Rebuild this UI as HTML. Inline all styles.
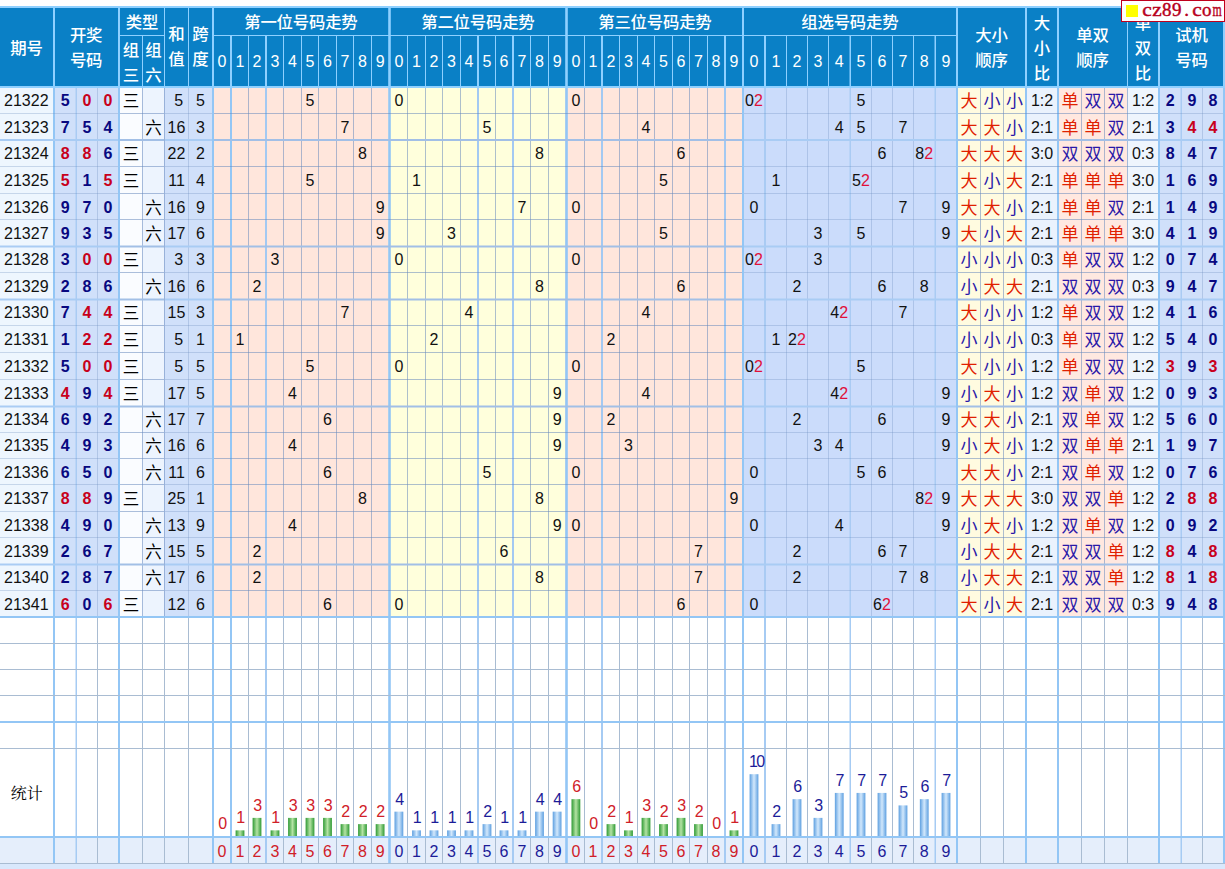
<!DOCTYPE html>
<html lang="zh"><head><meta charset="utf-8"><title>3D走势图</title>
<style>
html,body{margin:0;padding:0;background:#fff;overflow:hidden}
body{width:1225px;height:869px;position:relative;overflow:hidden;font-family:"Liberation Sans",sans-serif;font-size:16px}
.page{position:absolute;left:0;top:0;width:1225px;height:869px;overflow:hidden}
svg.bg{position:absolute;left:0;top:0}
.t{position:absolute;height:20px;line-height:20px;text-align:center;white-space:nowrap;color:#111}
.t i{font-style:normal;color:#e0103a}
.h{color:#fff}
.b{font-weight:bold}
.r{color:#c8001c}.n{color:#080880}
.r2{color:#d02028}.n2{color:#1c1c98}
.wm{position:absolute;left:1121px;top:0;width:102px;height:20px;border:1px solid #c0001c;background:#fff;font-family:"Liberation Serif",serif;font-weight:normal;-webkit-text-stroke:0.45px #b8001c;font-size:19px;color:#b8001c;line-height:20px;white-space:nowrap}
.wm .sq{position:absolute;left:4px;top:4px;width:12px;height:12px;background:#ffff00}
.wm b{position:absolute;top:-1px;font-weight:normal;width:20px;text-align:center}
svg.bg text{font-family:"Liberation Sans","Noto Sans CJK SC",sans-serif}
svg.bg .hd{font-size:16.4px;fill:#fff;font-weight:500;letter-spacing:-0.2px}
svg.bg .k{font-size:16.5px;fill:#000}
svg.bg .ds{font-size:17px}
svg.bg .a{fill:#e02000}
svg.bg .c{fill:#2a18a8}
svg.bg .st{font-family:"Liberation Serif","Noto Serif CJK SC",serif;font-size:16px;fill:#000}
</style></head><body><div class="page">
<svg class="bg" width="1225" height="869" viewBox="0 0 1225 869">
<defs>
<linearGradient id="gg" x1="0" x2="1" y1="0" y2="0"><stop offset="0" stop-color="#2f9a35"/><stop offset=".5" stop-color="#b4e3a4"/><stop offset="1" stop-color="#2f9a35"/></linearGradient>
<linearGradient id="gb" x1="0" x2="1" y1="0" y2="0"><stop offset="0" stop-color="#5d9fe0"/><stop offset=".5" stop-color="#d2e8fc"/><stop offset="1" stop-color="#5d9fe0"/></linearGradient>
</defs>
<rect x="0" y="0" width="1225" height="869" fill="#fff"/><rect x="0" y="6" width="1225" height="2" fill="#8fd0ff"/><rect x="0" y="8" width="1225" height="78" fill="#0a80c6"/><rect x="0" y="86" width="1225" height="2" fill="#8fd0ff"/><rect x="0" y="88" width="55" height="528" fill="#eef6fe"/><rect x="53" y="88" width="24" height="528" fill="#d0e0fa"/><rect x="75.5" y="88" width="22.5" height="528" fill="#d0e0fa"/><rect x="97" y="88" width="23" height="528" fill="#d0e0fa"/><rect x="118" y="88" width="25" height="528" fill="#fafcff"/><rect x="142" y="88" width="23" height="528" fill="#edf4fe"/><rect x="164" y="88" width="25" height="528" fill="#d0e0fa"/><rect x="188" y="88" width="26" height="528" fill="#d0e0fa"/><rect x="212" y="88" width="20" height="528" fill="#ffe6dc"/><rect x="230" y="88" width="19" height="528" fill="#ffe6dc"/><rect x="248" y="88" width="19" height="528" fill="#ffe6dc"/><rect x="265" y="88" width="19" height="528" fill="#ffe6dc"/><rect x="283" y="88" width="19" height="528" fill="#ffe6dc"/><rect x="301" y="88" width="18" height="528" fill="#ffe6dc"/><rect x="318" y="88" width="19" height="528" fill="#ffe6dc"/><rect x="336" y="88" width="18" height="528" fill="#ffe6dc"/><rect x="353" y="88" width="19" height="528" fill="#ffe6dc"/><rect x="371" y="88" width="19.8" height="528" fill="#ffe6dc"/><rect x="388.2" y="88" width="19.8" height="528" fill="#ffffdc"/><rect x="407" y="88" width="19" height="528" fill="#ffffdc"/><rect x="425" y="88" width="18" height="528" fill="#ffffdc"/><rect x="442" y="88" width="19" height="528" fill="#ffffdc"/><rect x="460" y="88" width="19" height="528" fill="#ffffdc"/><rect x="477" y="88" width="19" height="528" fill="#ffffdc"/><rect x="495" y="88" width="19" height="528" fill="#ffffdc"/><rect x="512" y="88" width="19" height="528" fill="#ffffdc"/><rect x="530" y="88" width="19" height="528" fill="#ffffdc"/><rect x="548" y="88" width="19.8" height="528" fill="#ffffdc"/><rect x="565.2" y="88" width="19.8" height="528" fill="#ffe6dc"/><rect x="584" y="88" width="19" height="528" fill="#ffe6dc"/><rect x="601" y="88" width="19" height="528" fill="#ffe6dc"/><rect x="619" y="88" width="19" height="528" fill="#ffe6dc"/><rect x="637" y="88" width="18" height="528" fill="#ffe6dc"/><rect x="654" y="88" width="19" height="528" fill="#ffe6dc"/><rect x="672" y="88" width="18" height="528" fill="#ffe6dc"/><rect x="689" y="88" width="19" height="528" fill="#ffe6dc"/><rect x="707" y="88" width="19" height="528" fill="#ffe6dc"/><rect x="724" y="88" width="20" height="528" fill="#ffe6dc"/><rect x="742" y="88" width="24" height="528" fill="#cbdcfb"/><rect x="764" y="88" width="23" height="528" fill="#cbdcfb"/><rect x="786" y="88" width="22" height="528" fill="#cbdcfb"/><rect x="807" y="88" width="22" height="528" fill="#cbdcfb"/><rect x="828" y="88" width="23" height="528" fill="#cbdcfb"/><rect x="849.5" y="88" width="22.5" height="528" fill="#cbdcfb"/><rect x="871" y="88" width="22" height="528" fill="#cbdcfb"/><rect x="892" y="88" width="22" height="528" fill="#cbdcfb"/><rect x="913" y="88" width="23" height="528" fill="#cbdcfb"/><rect x="934.5" y="88" width="23.5" height="528" fill="#cbdcfb"/><rect x="956" y="88" width="25" height="528" fill="#fffbe0"/><rect x="980" y="88" width="24" height="528" fill="#fffbe0"/><rect x="1003" y="88" width="24" height="528" fill="#fffbe0"/><rect x="1025" y="88" width="34" height="528" fill="#eaf2fd"/><rect x="1057" y="88" width="25" height="528" fill="#ffe8e0"/><rect x="1081" y="88" width="24" height="528" fill="#ffe8e0"/><rect x="1104" y="88" width="24" height="528" fill="#ffe8e0"/><rect x="1127" y="88" width="33" height="528" fill="#eef5fd"/><rect x="1158" y="88" width="24" height="528" fill="#d0e0fa"/><rect x="1180.5" y="88" width="22.5" height="528" fill="#d0e0fa"/><rect x="1202" y="88" width="23" height="528" fill="#d0e0fa"/><rect x="0" y="838" width="1225" height="25" fill="#e5eefb"/><rect x="0" y="864" width="1225" height="5" fill="#d9e8fc"/><rect x="53" y="88" width="2" height="528" fill="#93c6f5"/><rect x="53" y="616" width="2" height="247" fill="#93c6f5"/><rect x="75.5" y="88" width="1.5" height="528" fill="#aacbf3"/><rect x="75.5" y="616" width="1.5" height="247" fill="#a6cbf3"/><rect x="97" y="88" width="1" height="528" fill="rgba(105,138,190,0.3)"/><rect x="97" y="616" width="1" height="247" fill="#a9bcd2"/><rect x="118" y="88" width="2" height="528" fill="#93c6f5"/><rect x="118" y="616" width="2" height="247" fill="#93c6f5"/><rect x="142" y="88" width="1" height="528" fill="rgba(105,138,190,0.55)"/><rect x="142" y="616" width="1" height="247" fill="#a9bcd2"/><rect x="164" y="88" width="1" height="528" fill="rgba(105,138,190,0.55)"/><rect x="164" y="616" width="1" height="247" fill="#a9bcd2"/><rect x="188" y="88" width="1" height="528" fill="rgba(105,138,190,0.3)"/><rect x="188" y="616" width="1" height="247" fill="#a9bcd2"/><rect x="212" y="88" width="2" height="528" fill="#93c6f5"/><rect x="212" y="616" width="2" height="247" fill="#93c6f5"/><rect x="230" y="88" width="2" height="528" fill="#93c6f5"/><rect x="230" y="616" width="2" height="247" fill="#93c6f5"/><rect x="248" y="88" width="1" height="528" fill="rgba(105,138,190,0.55)"/><rect x="248" y="616" width="1" height="247" fill="#a9bcd2"/><rect x="265" y="88" width="2" height="528" fill="#a3c9f2"/><rect x="265" y="616" width="2" height="247" fill="#a6cbf3"/><rect x="283" y="88" width="1" height="528" fill="rgba(105,138,190,0.55)"/><rect x="283" y="616" width="1" height="247" fill="#a9bcd2"/><rect x="301" y="88" width="1" height="528" fill="rgba(105,138,190,0.55)"/><rect x="301" y="616" width="1" height="247" fill="#a9bcd2"/><rect x="318" y="88" width="1" height="528" fill="rgba(105,138,190,0.55)"/><rect x="318" y="616" width="1" height="247" fill="#a9bcd2"/><rect x="336" y="88" width="1" height="528" fill="rgba(105,138,190,0.55)"/><rect x="336" y="616" width="1" height="247" fill="#a9bcd2"/><rect x="353" y="88" width="1" height="528" fill="rgba(105,138,190,0.55)"/><rect x="353" y="616" width="1" height="247" fill="#a9bcd2"/><rect x="371" y="88" width="1" height="528" fill="rgba(105,138,190,0.55)"/><rect x="371" y="616" width="1" height="247" fill="#a9bcd2"/><rect x="388.2" y="88" width="2.6" height="528" fill="#93c6f5"/><rect x="388.2" y="616" width="2.6" height="247" fill="#93c6f5"/><rect x="407" y="88" width="1" height="528" fill="rgba(105,138,190,0.55)"/><rect x="407" y="616" width="1" height="247" fill="#a9bcd2"/><rect x="425" y="88" width="1" height="528" fill="rgba(105,138,190,0.55)"/><rect x="425" y="616" width="1" height="247" fill="#a9bcd2"/><rect x="442" y="88" width="1" height="528" fill="rgba(105,138,190,0.55)"/><rect x="442" y="616" width="1" height="247" fill="#a9bcd2"/><rect x="460" y="88" width="1" height="528" fill="rgba(105,138,190,0.55)"/><rect x="460" y="616" width="1" height="247" fill="#a9bcd2"/><rect x="477" y="88" width="2" height="528" fill="#a3c9f2"/><rect x="477" y="616" width="2" height="247" fill="#a6cbf3"/><rect x="495" y="88" width="1" height="528" fill="rgba(105,138,190,0.55)"/><rect x="495" y="616" width="1" height="247" fill="#a9bcd2"/><rect x="512" y="88" width="2" height="528" fill="#a3c9f2"/><rect x="512" y="616" width="2" height="247" fill="#a6cbf3"/><rect x="530" y="88" width="1" height="528" fill="rgba(105,138,190,0.55)"/><rect x="530" y="616" width="1" height="247" fill="#a9bcd2"/><rect x="548" y="88" width="1" height="528" fill="rgba(105,138,190,0.55)"/><rect x="548" y="616" width="1" height="247" fill="#a9bcd2"/><rect x="565.2" y="88" width="2.6" height="528" fill="#93c6f5"/><rect x="565.2" y="616" width="2.6" height="247" fill="#93c6f5"/><rect x="584" y="88" width="1" height="528" fill="rgba(105,138,190,0.55)"/><rect x="584" y="616" width="1" height="247" fill="#a9bcd2"/><rect x="601" y="88" width="2" height="528" fill="#a3c9f2"/><rect x="601" y="616" width="2" height="247" fill="#a6cbf3"/><rect x="619" y="88" width="1" height="528" fill="rgba(105,138,190,0.55)"/><rect x="619" y="616" width="1" height="247" fill="#a9bcd2"/><rect x="637" y="88" width="1" height="528" fill="rgba(105,138,190,0.55)"/><rect x="637" y="616" width="1" height="247" fill="#a9bcd2"/><rect x="654" y="88" width="1" height="528" fill="rgba(105,138,190,0.55)"/><rect x="654" y="616" width="1" height="247" fill="#a9bcd2"/><rect x="672" y="88" width="1" height="528" fill="rgba(105,138,190,0.55)"/><rect x="672" y="616" width="1" height="247" fill="#a9bcd2"/><rect x="689" y="88" width="1" height="528" fill="rgba(105,138,190,0.55)"/><rect x="689" y="616" width="1" height="247" fill="#a9bcd2"/><rect x="707" y="88" width="1" height="528" fill="rgba(105,138,190,0.55)"/><rect x="707" y="616" width="1" height="247" fill="#a9bcd2"/><rect x="724" y="88" width="2" height="528" fill="#a3c9f2"/><rect x="724" y="616" width="2" height="247" fill="#a6cbf3"/><rect x="742" y="88" width="2" height="528" fill="#93c6f5"/><rect x="742" y="616" width="2" height="247" fill="#93c6f5"/><rect x="764" y="88" width="2" height="528" fill="#aacbf3"/><rect x="764" y="616" width="2" height="247" fill="#a6cbf3"/><rect x="786" y="88" width="1" height="528" fill="rgba(105,138,190,0.3)"/><rect x="786" y="616" width="1" height="247" fill="#a9bcd2"/><rect x="807" y="88" width="1" height="528" fill="rgba(105,138,190,0.3)"/><rect x="807" y="616" width="1" height="247" fill="#a9bcd2"/><rect x="828" y="88" width="1" height="528" fill="rgba(105,138,190,0.3)"/><rect x="828" y="616" width="1" height="247" fill="#a9bcd2"/><rect x="849.5" y="88" width="1.5" height="528" fill="#aacbf3"/><rect x="849.5" y="616" width="1.5" height="247" fill="#a6cbf3"/><rect x="871" y="88" width="1" height="528" fill="rgba(105,138,190,0.3)"/><rect x="871" y="616" width="1" height="247" fill="#a9bcd2"/><rect x="892" y="88" width="1" height="528" fill="rgba(105,138,190,0.3)"/><rect x="892" y="616" width="1" height="247" fill="#a9bcd2"/><rect x="913" y="88" width="1" height="528" fill="rgba(105,138,190,0.3)"/><rect x="913" y="616" width="1" height="247" fill="#a9bcd2"/><rect x="934.5" y="88" width="1.5" height="528" fill="#aacbf3"/><rect x="934.5" y="616" width="1.5" height="247" fill="#a6cbf3"/><rect x="956" y="88" width="2" height="528" fill="#93c6f5"/><rect x="956" y="616" width="2" height="247" fill="#93c6f5"/><rect x="980" y="88" width="1" height="528" fill="rgba(105,138,190,0.55)"/><rect x="980" y="616" width="1" height="247" fill="#a9bcd2"/><rect x="1003" y="88" width="1" height="528" fill="rgba(105,138,190,0.55)"/><rect x="1003" y="616" width="1" height="247" fill="#a9bcd2"/><rect x="1025" y="88" width="2" height="528" fill="#93c6f5"/><rect x="1025" y="616" width="2" height="247" fill="#93c6f5"/><rect x="1057" y="88" width="2" height="528" fill="#93c6f5"/><rect x="1057" y="616" width="2" height="247" fill="#93c6f5"/><rect x="1081" y="88" width="1" height="528" fill="rgba(105,138,190,0.55)"/><rect x="1081" y="616" width="1" height="247" fill="#a9bcd2"/><rect x="1104" y="88" width="1" height="528" fill="rgba(105,138,190,0.55)"/><rect x="1104" y="616" width="1" height="247" fill="#a9bcd2"/><rect x="1127" y="88" width="1" height="528" fill="rgba(105,138,190,0.55)"/><rect x="1127" y="616" width="1" height="247" fill="#a9bcd2"/><rect x="1158" y="88" width="2" height="528" fill="#93c6f5"/><rect x="1158" y="616" width="2" height="247" fill="#93c6f5"/><rect x="1180.5" y="88" width="1.5" height="528" fill="#aacbf3"/><rect x="1180.5" y="616" width="1.5" height="247" fill="#a6cbf3"/><rect x="1202" y="88" width="1" height="528" fill="rgba(105,138,190,0.3)"/><rect x="1202" y="616" width="1" height="247" fill="#a9bcd2"/><rect x="1223" y="88" width="2" height="528" fill="#93c6f5"/><rect x="1223" y="616" width="2" height="247" fill="#93c6f5"/><rect x="0" y="113" width="118" height="1" fill="rgba(105,138,190,0.3)"/><rect x="120" y="113" width="44" height="1" fill="rgba(105,138,190,0.55)"/><rect x="165" y="113" width="47" height="1" fill="rgba(105,138,190,0.3)"/><rect x="214" y="113" width="528" height="1" fill="rgba(105,138,190,0.55)"/><rect x="744" y="113" width="212" height="1" fill="rgba(105,138,190,0.3)"/><rect x="958" y="113" width="200" height="1" fill="rgba(105,138,190,0.55)"/><rect x="1160" y="113" width="63" height="1" fill="rgba(105,138,190,0.3)"/><rect x="0" y="139" width="118" height="2" fill="#a9ccf4"/><rect x="120" y="139" width="44" height="2" fill="#a2bfe6"/><rect x="165" y="139" width="47" height="2" fill="#a9ccf4"/><rect x="214" y="139" width="528" height="2" fill="#a2bfe6"/><rect x="744" y="139" width="212" height="2" fill="#a9ccf4"/><rect x="958" y="139" width="200" height="2" fill="#a2bfe6"/><rect x="1160" y="139" width="63" height="2" fill="#a9ccf4"/><rect x="0" y="166" width="118" height="1" fill="rgba(105,138,190,0.3)"/><rect x="120" y="166" width="44" height="1" fill="rgba(105,138,190,0.55)"/><rect x="165" y="166" width="47" height="1" fill="rgba(105,138,190,0.3)"/><rect x="214" y="166" width="528" height="1" fill="rgba(105,138,190,0.55)"/><rect x="744" y="166" width="212" height="1" fill="rgba(105,138,190,0.3)"/><rect x="958" y="166" width="200" height="1" fill="rgba(105,138,190,0.55)"/><rect x="1160" y="166" width="63" height="1" fill="rgba(105,138,190,0.3)"/><rect x="0" y="193" width="118" height="1" fill="rgba(105,138,190,0.3)"/><rect x="120" y="193" width="44" height="1" fill="rgba(105,138,190,0.55)"/><rect x="165" y="193" width="47" height="1" fill="rgba(105,138,190,0.3)"/><rect x="214" y="193" width="528" height="1" fill="rgba(105,138,190,0.55)"/><rect x="744" y="193" width="212" height="1" fill="rgba(105,138,190,0.3)"/><rect x="958" y="193" width="200" height="1" fill="rgba(105,138,190,0.55)"/><rect x="1160" y="193" width="63" height="1" fill="rgba(105,138,190,0.3)"/><rect x="0" y="219" width="118" height="1" fill="rgba(105,138,190,0.3)"/><rect x="120" y="219" width="44" height="1" fill="rgba(105,138,190,0.55)"/><rect x="165" y="219" width="47" height="1" fill="rgba(105,138,190,0.3)"/><rect x="214" y="219" width="528" height="1" fill="rgba(105,138,190,0.55)"/><rect x="744" y="219" width="212" height="1" fill="rgba(105,138,190,0.3)"/><rect x="958" y="219" width="200" height="1" fill="rgba(105,138,190,0.55)"/><rect x="1160" y="219" width="63" height="1" fill="rgba(105,138,190,0.3)"/><rect x="0" y="245.5" width="118" height="2" fill="#a9ccf4"/><rect x="120" y="245.5" width="44" height="2" fill="#a2bfe6"/><rect x="165" y="245.5" width="47" height="2" fill="#a9ccf4"/><rect x="214" y="245.5" width="528" height="2" fill="#a2bfe6"/><rect x="744" y="245.5" width="212" height="2" fill="#a9ccf4"/><rect x="958" y="245.5" width="200" height="2" fill="#a2bfe6"/><rect x="1160" y="245.5" width="63" height="2" fill="#a9ccf4"/><rect x="0" y="272" width="118" height="1" fill="rgba(105,138,190,0.3)"/><rect x="120" y="272" width="44" height="1" fill="rgba(105,138,190,0.55)"/><rect x="165" y="272" width="47" height="1" fill="rgba(105,138,190,0.3)"/><rect x="214" y="272" width="528" height="1" fill="rgba(105,138,190,0.55)"/><rect x="744" y="272" width="212" height="1" fill="rgba(105,138,190,0.3)"/><rect x="958" y="272" width="200" height="1" fill="rgba(105,138,190,0.55)"/><rect x="1160" y="272" width="63" height="1" fill="rgba(105,138,190,0.3)"/><rect x="0" y="298.5" width="118" height="2" fill="#a9ccf4"/><rect x="120" y="298.5" width="44" height="2" fill="#a2bfe6"/><rect x="165" y="298.5" width="47" height="2" fill="#a9ccf4"/><rect x="214" y="298.5" width="528" height="2" fill="#a2bfe6"/><rect x="744" y="298.5" width="212" height="2" fill="#a9ccf4"/><rect x="958" y="298.5" width="200" height="2" fill="#a2bfe6"/><rect x="1160" y="298.5" width="63" height="2" fill="#a9ccf4"/><rect x="0" y="325" width="118" height="1" fill="rgba(105,138,190,0.3)"/><rect x="120" y="325" width="44" height="1" fill="rgba(105,138,190,0.55)"/><rect x="165" y="325" width="47" height="1" fill="rgba(105,138,190,0.3)"/><rect x="214" y="325" width="528" height="1" fill="rgba(105,138,190,0.55)"/><rect x="744" y="325" width="212" height="1" fill="rgba(105,138,190,0.3)"/><rect x="958" y="325" width="200" height="1" fill="rgba(105,138,190,0.55)"/><rect x="1160" y="325" width="63" height="1" fill="rgba(105,138,190,0.3)"/><rect x="0" y="352" width="118" height="1" fill="rgba(105,138,190,0.3)"/><rect x="120" y="352" width="44" height="1" fill="rgba(105,138,190,0.55)"/><rect x="165" y="352" width="47" height="1" fill="rgba(105,138,190,0.3)"/><rect x="214" y="352" width="528" height="1" fill="rgba(105,138,190,0.55)"/><rect x="744" y="352" width="212" height="1" fill="rgba(105,138,190,0.3)"/><rect x="958" y="352" width="200" height="1" fill="rgba(105,138,190,0.55)"/><rect x="1160" y="352" width="63" height="1" fill="rgba(105,138,190,0.3)"/><rect x="0" y="379" width="118" height="1" fill="rgba(105,138,190,0.3)"/><rect x="120" y="379" width="44" height="1" fill="rgba(105,138,190,0.55)"/><rect x="165" y="379" width="47" height="1" fill="rgba(105,138,190,0.3)"/><rect x="214" y="379" width="528" height="1" fill="rgba(105,138,190,0.55)"/><rect x="744" y="379" width="212" height="1" fill="rgba(105,138,190,0.3)"/><rect x="958" y="379" width="200" height="1" fill="rgba(105,138,190,0.55)"/><rect x="1160" y="379" width="63" height="1" fill="rgba(105,138,190,0.3)"/><rect x="0" y="405.5" width="118" height="2" fill="#a9ccf4"/><rect x="120" y="405.5" width="44" height="2" fill="#a2bfe6"/><rect x="165" y="405.5" width="47" height="2" fill="#a9ccf4"/><rect x="214" y="405.5" width="528" height="2" fill="#a2bfe6"/><rect x="744" y="405.5" width="212" height="2" fill="#a9ccf4"/><rect x="958" y="405.5" width="200" height="2" fill="#a2bfe6"/><rect x="1160" y="405.5" width="63" height="2" fill="#a9ccf4"/><rect x="0" y="432" width="118" height="1" fill="rgba(105,138,190,0.3)"/><rect x="120" y="432" width="44" height="1" fill="rgba(105,138,190,0.55)"/><rect x="165" y="432" width="47" height="1" fill="rgba(105,138,190,0.3)"/><rect x="214" y="432" width="528" height="1" fill="rgba(105,138,190,0.55)"/><rect x="744" y="432" width="212" height="1" fill="rgba(105,138,190,0.3)"/><rect x="958" y="432" width="200" height="1" fill="rgba(105,138,190,0.55)"/><rect x="1160" y="432" width="63" height="1" fill="rgba(105,138,190,0.3)"/><rect x="0" y="458" width="118" height="1" fill="rgba(105,138,190,0.3)"/><rect x="120" y="458" width="44" height="1" fill="rgba(105,138,190,0.55)"/><rect x="165" y="458" width="47" height="1" fill="rgba(105,138,190,0.3)"/><rect x="214" y="458" width="528" height="1" fill="rgba(105,138,190,0.55)"/><rect x="744" y="458" width="212" height="1" fill="rgba(105,138,190,0.3)"/><rect x="958" y="458" width="200" height="1" fill="rgba(105,138,190,0.55)"/><rect x="1160" y="458" width="63" height="1" fill="rgba(105,138,190,0.3)"/><rect x="0" y="484" width="118" height="1" fill="rgba(105,138,190,0.3)"/><rect x="120" y="484" width="44" height="1" fill="rgba(105,138,190,0.55)"/><rect x="165" y="484" width="47" height="1" fill="rgba(105,138,190,0.3)"/><rect x="214" y="484" width="528" height="1" fill="rgba(105,138,190,0.55)"/><rect x="744" y="484" width="212" height="1" fill="rgba(105,138,190,0.3)"/><rect x="958" y="484" width="200" height="1" fill="rgba(105,138,190,0.55)"/><rect x="1160" y="484" width="63" height="1" fill="rgba(105,138,190,0.3)"/><rect x="0" y="511" width="118" height="1" fill="rgba(105,138,190,0.3)"/><rect x="120" y="511" width="44" height="1" fill="rgba(105,138,190,0.55)"/><rect x="165" y="511" width="47" height="1" fill="rgba(105,138,190,0.3)"/><rect x="214" y="511" width="528" height="1" fill="rgba(105,138,190,0.55)"/><rect x="744" y="511" width="212" height="1" fill="rgba(105,138,190,0.3)"/><rect x="958" y="511" width="200" height="1" fill="rgba(105,138,190,0.55)"/><rect x="1160" y="511" width="63" height="1" fill="rgba(105,138,190,0.3)"/><rect x="0" y="537" width="118" height="1" fill="rgba(105,138,190,0.3)"/><rect x="120" y="537" width="44" height="1" fill="rgba(105,138,190,0.55)"/><rect x="165" y="537" width="47" height="1" fill="rgba(105,138,190,0.3)"/><rect x="214" y="537" width="528" height="1" fill="rgba(105,138,190,0.55)"/><rect x="744" y="537" width="212" height="1" fill="rgba(105,138,190,0.3)"/><rect x="958" y="537" width="200" height="1" fill="rgba(105,138,190,0.55)"/><rect x="1160" y="537" width="63" height="1" fill="rgba(105,138,190,0.3)"/><rect x="0" y="563.5" width="118" height="2" fill="#a9ccf4"/><rect x="120" y="563.5" width="44" height="2" fill="#a2bfe6"/><rect x="165" y="563.5" width="47" height="2" fill="#a9ccf4"/><rect x="214" y="563.5" width="528" height="2" fill="#a2bfe6"/><rect x="744" y="563.5" width="212" height="2" fill="#a9ccf4"/><rect x="958" y="563.5" width="200" height="2" fill="#a2bfe6"/><rect x="1160" y="563.5" width="63" height="2" fill="#a9ccf4"/><rect x="0" y="590" width="118" height="1" fill="rgba(105,138,190,0.3)"/><rect x="120" y="590" width="44" height="1" fill="rgba(105,138,190,0.55)"/><rect x="165" y="590" width="47" height="1" fill="rgba(105,138,190,0.3)"/><rect x="214" y="590" width="528" height="1" fill="rgba(105,138,190,0.55)"/><rect x="744" y="590" width="212" height="1" fill="rgba(105,138,190,0.3)"/><rect x="958" y="590" width="200" height="1" fill="rgba(105,138,190,0.55)"/><rect x="1160" y="590" width="63" height="1" fill="rgba(105,138,190,0.3)"/><rect x="0" y="616" width="1225" height="2" fill="#93c6f5"/><rect x="0" y="643" width="1225" height="1" fill="#a9bcd2"/><rect x="0" y="669" width="1225" height="1" fill="#a9bcd2"/><rect x="0" y="695" width="1225" height="1" fill="#a9bcd2"/><rect x="0" y="721" width="1225" height="2" fill="#93c6f5"/><rect x="0" y="748" width="1225" height="1" fill="#a9bcd2"/><rect x="0" y="836" width="1225" height="2" fill="#93c6f5"/><rect x="0" y="863" width="1225" height="1" fill="#a9bcd2"/><rect x="53" y="8" width="2" height="78" fill="#8fd0ff"/><rect x="118" y="8" width="2" height="78" fill="#8fd0ff"/><rect x="142" y="36" width="1" height="50" fill="#8fd0ff"/><rect x="164" y="8" width="1" height="78" fill="#8fd0ff"/><rect x="188" y="8" width="1" height="78" fill="#8fd0ff"/><rect x="212" y="8" width="2" height="78" fill="#8fd0ff"/><rect x="230" y="36" width="2" height="50" fill="#8fd0ff"/><rect x="248" y="36" width="1" height="50" fill="#8fd0ff"/><rect x="265" y="36" width="2" height="50" fill="#8fd0ff"/><rect x="283" y="36" width="1" height="50" fill="#8fd0ff"/><rect x="301" y="36" width="1" height="50" fill="#8fd0ff"/><rect x="318" y="36" width="1" height="50" fill="#8fd0ff"/><rect x="336" y="36" width="1" height="50" fill="#8fd0ff"/><rect x="353" y="36" width="1" height="50" fill="#8fd0ff"/><rect x="371" y="36" width="1" height="50" fill="#8fd0ff"/><rect x="388.2" y="8" width="2.6" height="78" fill="#8fd0ff"/><rect x="407" y="36" width="1" height="50" fill="#8fd0ff"/><rect x="425" y="36" width="1" height="50" fill="#8fd0ff"/><rect x="442" y="36" width="1" height="50" fill="#8fd0ff"/><rect x="460" y="36" width="1" height="50" fill="#8fd0ff"/><rect x="477" y="36" width="2" height="50" fill="#8fd0ff"/><rect x="495" y="36" width="1" height="50" fill="#8fd0ff"/><rect x="512" y="36" width="2" height="50" fill="#8fd0ff"/><rect x="530" y="36" width="1" height="50" fill="#8fd0ff"/><rect x="548" y="36" width="1" height="50" fill="#8fd0ff"/><rect x="565.2" y="8" width="2.6" height="78" fill="#8fd0ff"/><rect x="584" y="36" width="1" height="50" fill="#8fd0ff"/><rect x="601" y="36" width="2" height="50" fill="#8fd0ff"/><rect x="619" y="36" width="1" height="50" fill="#8fd0ff"/><rect x="637" y="36" width="1" height="50" fill="#8fd0ff"/><rect x="654" y="36" width="1" height="50" fill="#8fd0ff"/><rect x="672" y="36" width="1" height="50" fill="#8fd0ff"/><rect x="689" y="36" width="1" height="50" fill="#8fd0ff"/><rect x="707" y="36" width="1" height="50" fill="#8fd0ff"/><rect x="724" y="36" width="2" height="50" fill="#8fd0ff"/><rect x="742" y="8" width="2" height="78" fill="#8fd0ff"/><rect x="764" y="36" width="2" height="50" fill="#8fd0ff"/><rect x="786" y="36" width="1" height="50" fill="#8fd0ff"/><rect x="807" y="36" width="1" height="50" fill="#8fd0ff"/><rect x="828" y="36" width="1" height="50" fill="#8fd0ff"/><rect x="849.5" y="36" width="1.5" height="50" fill="#8fd0ff"/><rect x="871" y="36" width="1" height="50" fill="#8fd0ff"/><rect x="892" y="36" width="1" height="50" fill="#8fd0ff"/><rect x="913" y="36" width="1" height="50" fill="#8fd0ff"/><rect x="934.5" y="36" width="1.5" height="50" fill="#8fd0ff"/><rect x="956" y="8" width="2" height="78" fill="#8fd0ff"/><rect x="1025" y="8" width="2" height="78" fill="#8fd0ff"/><rect x="1057" y="8" width="2" height="78" fill="#8fd0ff"/><rect x="1127" y="8" width="1" height="78" fill="#8fd0ff"/><rect x="1158" y="8" width="2" height="78" fill="#8fd0ff"/><rect x="1223" y="8" width="2" height="78" fill="#8fd0ff"/><rect x="120" y="35" width="44" height="1" fill="#8fd0ff"/><rect x="214" y="35" width="742" height="1" fill="#8fd0ff"/><rect x="235.6" y="830.36" width="8.8" height="5.64" fill="url(#gg)"/><rect x="252.6" y="817.88" width="8.8" height="18.12" fill="url(#gg)"/><rect x="270.6" y="830.36" width="8.8" height="5.64" fill="url(#gg)"/><rect x="288.1" y="817.88" width="8.8" height="18.12" fill="url(#gg)"/><rect x="305.6" y="817.88" width="8.8" height="18.12" fill="url(#gg)"/><rect x="323.1" y="817.88" width="8.8" height="18.12" fill="url(#gg)"/><rect x="340.6" y="824.12" width="8.8" height="11.88" fill="url(#gg)"/><rect x="358.1" y="824.12" width="8.8" height="11.88" fill="url(#gg)"/><rect x="375.7" y="824.12" width="8.8" height="11.88" fill="url(#gg)"/><rect x="394.5" y="811.64" width="8.8" height="24.36" fill="url(#gb)"/><rect x="412.1" y="830.36" width="8.8" height="5.64" fill="url(#gb)"/><rect x="429.6" y="830.36" width="8.8" height="5.64" fill="url(#gb)"/><rect x="447.1" y="830.36" width="8.8" height="5.64" fill="url(#gb)"/><rect x="464.6" y="830.36" width="8.8" height="5.64" fill="url(#gb)"/><rect x="482.6" y="824.12" width="8.8" height="11.88" fill="url(#gb)"/><rect x="499.6" y="830.36" width="8.8" height="5.64" fill="url(#gb)"/><rect x="517.6" y="830.36" width="8.8" height="5.64" fill="url(#gb)"/><rect x="535.1" y="811.64" width="8.8" height="24.36" fill="url(#gb)"/><rect x="552.7" y="811.64" width="8.8" height="24.36" fill="url(#gb)"/><rect x="571.5" y="799.16" width="8.8" height="36.84" fill="url(#gg)"/><rect x="606.6" y="824.12" width="8.8" height="11.88" fill="url(#gg)"/><rect x="624.1" y="830.36" width="8.8" height="5.64" fill="url(#gg)"/><rect x="641.6" y="817.88" width="8.8" height="18.12" fill="url(#gg)"/><rect x="659.1" y="824.12" width="8.8" height="11.88" fill="url(#gg)"/><rect x="676.6" y="817.88" width="8.8" height="18.12" fill="url(#gg)"/><rect x="694.1" y="824.12" width="8.8" height="11.88" fill="url(#gg)"/><rect x="729.6" y="830.36" width="8.8" height="5.64" fill="url(#gg)"/><rect x="749.6" y="774.2" width="8.8" height="61.8" fill="url(#gb)"/><rect x="771.6" y="824.12" width="8.8" height="11.88" fill="url(#gb)"/><rect x="792.6" y="799.16" width="8.8" height="36.84" fill="url(#gb)"/><rect x="813.6" y="817.88" width="8.8" height="18.12" fill="url(#gb)"/><rect x="834.85" y="792.92" width="8.8" height="43.08" fill="url(#gb)"/><rect x="856.6" y="792.92" width="8.8" height="43.08" fill="url(#gb)"/><rect x="877.6" y="792.92" width="8.8" height="43.08" fill="url(#gb)"/><rect x="898.6" y="805.4" width="8.8" height="30.6" fill="url(#gb)"/><rect x="919.85" y="799.16" width="8.8" height="36.84" fill="url(#gb)"/><rect x="941.6" y="792.92" width="8.8" height="43.08" fill="url(#gb)"/>
<g>
<text class="hd" x="10.2" y="53.83">期号</text>
<text class="hd" x="69.9" y="41.33">开奖</text>
<text class="hd" x="69.9" y="66.23">号码</text>
<text class="hd" x="125.8" y="27.83">类型</text>
<text class="hd" x="122.8" y="55.53">组</text>
<text class="hd" x="122.8" y="80.63">三</text>
<text class="hd" x="145.3" y="55.53">组</text>
<text class="hd" x="145.3" y="80.63">六</text>
<text class="hd" x="168.3" y="40.23">和</text>
<text class="hd" x="168.3" y="65.43">值</text>
<text class="hd" x="192.3" y="40.23">跨</text>
<text class="hd" x="192.3" y="65.43">度</text>
<text class="hd" x="244.2" y="27.83">第一位号码走势</text>
<text class="hd" x="421.2" y="27.83">第二位号码走势</text>
<text class="hd" x="598.2" y="27.83">第三位号码走势</text>
<text class="hd" x="801.3" y="27.83">组选号码走势</text>
<text class="hd" x="975.2" y="41.33">大小</text>
<text class="hd" x="975.2" y="66.23">顺序</text>
<text class="hd" x="1033.8" y="28.73">大</text>
<text class="hd" x="1033.8" y="53.73">小</text>
<text class="hd" x="1033.8" y="78.73">比</text>
<text class="hd" x="1076.2" y="41.33">单双</text>
<text class="hd" x="1076.2" y="66.23">顺序</text>
<text class="hd" x="1134.8" y="28.73">单</text>
<text class="hd" x="1134.8" y="53.73">双</text>
<text class="hd" x="1134.8" y="78.73">比</text>
<text class="hd" x="1175.2" y="41.33">试机</text>
<text class="hd" x="1175.2" y="66.23">号码</text>
<text class="k" x="122.75" y="106.57">三</text>
<text class="ds" y="106.76"><tspan x="960.5" class="a">大</tspan><tspan x="983.5" class="c">小</tspan><tspan x="1006" class="c">小</tspan><tspan x="1061.5" class="a">单</tspan><tspan x="1084.5" class="c">双</tspan><tspan x="1107.5" class="c">双</tspan></text>
<text class="k" x="145.25" y="133.57">六</text>
<text class="ds" y="133.76"><tspan x="960.5" class="a">大</tspan><tspan x="983.5" class="a">大</tspan><tspan x="1006" class="c">小</tspan><tspan x="1061.5" class="a">单</tspan><tspan x="1084.5" class="a">单</tspan><tspan x="1107.5" class="c">双</tspan></text>
<text class="k" x="122.75" y="159.57">三</text>
<text class="ds" y="159.76"><tspan x="960.5" class="a">大</tspan><tspan x="983.5" class="a">大</tspan><tspan x="1006" class="a">大</tspan><tspan x="1061.5" class="c">双</tspan><tspan x="1084.5" class="c">双</tspan><tspan x="1107.5" class="c">双</tspan></text>
<text class="k" x="122.75" y="186.57">三</text>
<text class="ds" y="186.76"><tspan x="960.5" class="a">大</tspan><tspan x="983.5" class="c">小</tspan><tspan x="1006" class="a">大</tspan><tspan x="1061.5" class="a">单</tspan><tspan x="1084.5" class="a">单</tspan><tspan x="1107.5" class="a">单</tspan></text>
<text class="k" x="145.25" y="213.57">六</text>
<text class="ds" y="213.76"><tspan x="960.5" class="a">大</tspan><tspan x="983.5" class="a">大</tspan><tspan x="1006" class="c">小</tspan><tspan x="1061.5" class="a">单</tspan><tspan x="1084.5" class="a">单</tspan><tspan x="1107.5" class="c">双</tspan></text>
<text class="k" x="145.25" y="239.57">六</text>
<text class="ds" y="239.76"><tspan x="960.5" class="a">大</tspan><tspan x="983.5" class="c">小</tspan><tspan x="1006" class="a">大</tspan><tspan x="1061.5" class="a">单</tspan><tspan x="1084.5" class="a">单</tspan><tspan x="1107.5" class="a">单</tspan></text>
<text class="k" x="122.75" y="265.57">三</text>
<text class="ds" y="265.76"><tspan x="960.5" class="c">小</tspan><tspan x="983.5" class="c">小</tspan><tspan x="1006" class="c">小</tspan><tspan x="1061.5" class="a">单</tspan><tspan x="1084.5" class="c">双</tspan><tspan x="1107.5" class="c">双</tspan></text>
<text class="k" x="145.25" y="292.57">六</text>
<text class="ds" y="292.76"><tspan x="960.5" class="c">小</tspan><tspan x="983.5" class="a">大</tspan><tspan x="1006" class="a">大</tspan><tspan x="1061.5" class="c">双</tspan><tspan x="1084.5" class="c">双</tspan><tspan x="1107.5" class="c">双</tspan></text>
<text class="k" x="122.75" y="318.57">三</text>
<text class="ds" y="318.76"><tspan x="960.5" class="a">大</tspan><tspan x="983.5" class="c">小</tspan><tspan x="1006" class="c">小</tspan><tspan x="1061.5" class="a">单</tspan><tspan x="1084.5" class="c">双</tspan><tspan x="1107.5" class="c">双</tspan></text>
<text class="k" x="122.75" y="345.57">三</text>
<text class="ds" y="345.76"><tspan x="960.5" class="c">小</tspan><tspan x="983.5" class="c">小</tspan><tspan x="1006" class="c">小</tspan><tspan x="1061.5" class="a">单</tspan><tspan x="1084.5" class="c">双</tspan><tspan x="1107.5" class="c">双</tspan></text>
<text class="k" x="122.75" y="372.57">三</text>
<text class="ds" y="372.76"><tspan x="960.5" class="a">大</tspan><tspan x="983.5" class="c">小</tspan><tspan x="1006" class="c">小</tspan><tspan x="1061.5" class="a">单</tspan><tspan x="1084.5" class="c">双</tspan><tspan x="1107.5" class="c">双</tspan></text>
<text class="k" x="122.75" y="399.57">三</text>
<text class="ds" y="399.76"><tspan x="960.5" class="c">小</tspan><tspan x="983.5" class="a">大</tspan><tspan x="1006" class="c">小</tspan><tspan x="1061.5" class="c">双</tspan><tspan x="1084.5" class="a">单</tspan><tspan x="1107.5" class="c">双</tspan></text>
<text class="k" x="145.25" y="425.57">六</text>
<text class="ds" y="425.76"><tspan x="960.5" class="a">大</tspan><tspan x="983.5" class="a">大</tspan><tspan x="1006" class="c">小</tspan><tspan x="1061.5" class="c">双</tspan><tspan x="1084.5" class="a">单</tspan><tspan x="1107.5" class="c">双</tspan></text>
<text class="k" x="145.25" y="451.57">六</text>
<text class="ds" y="451.76"><tspan x="960.5" class="c">小</tspan><tspan x="983.5" class="a">大</tspan><tspan x="1006" class="c">小</tspan><tspan x="1061.5" class="c">双</tspan><tspan x="1084.5" class="a">单</tspan><tspan x="1107.5" class="a">单</tspan></text>
<text class="k" x="145.25" y="478.57">六</text>
<text class="ds" y="478.76"><tspan x="960.5" class="a">大</tspan><tspan x="983.5" class="a">大</tspan><tspan x="1006" class="c">小</tspan><tspan x="1061.5" class="c">双</tspan><tspan x="1084.5" class="a">单</tspan><tspan x="1107.5" class="c">双</tspan></text>
<text class="k" x="122.75" y="504.57">三</text>
<text class="ds" y="504.76"><tspan x="960.5" class="a">大</tspan><tspan x="983.5" class="a">大</tspan><tspan x="1006" class="a">大</tspan><tspan x="1061.5" class="c">双</tspan><tspan x="1084.5" class="c">双</tspan><tspan x="1107.5" class="a">单</tspan></text>
<text class="k" x="145.25" y="531.57">六</text>
<text class="ds" y="531.76"><tspan x="960.5" class="c">小</tspan><tspan x="983.5" class="a">大</tspan><tspan x="1006" class="c">小</tspan><tspan x="1061.5" class="c">双</tspan><tspan x="1084.5" class="a">单</tspan><tspan x="1107.5" class="c">双</tspan></text>
<text class="k" x="145.25" y="557.57">六</text>
<text class="ds" y="557.76"><tspan x="960.5" class="c">小</tspan><tspan x="983.5" class="a">大</tspan><tspan x="1006" class="a">大</tspan><tspan x="1061.5" class="c">双</tspan><tspan x="1084.5" class="c">双</tspan><tspan x="1107.5" class="a">单</tspan></text>
<text class="k" x="145.25" y="583.57">六</text>
<text class="ds" y="583.76"><tspan x="960.5" class="c">小</tspan><tspan x="983.5" class="a">大</tspan><tspan x="1006" class="a">大</tspan><tspan x="1061.5" class="c">双</tspan><tspan x="1084.5" class="c">双</tspan><tspan x="1107.5" class="a">单</tspan></text>
<text class="k" x="122.75" y="610.57">三</text>
<text class="ds" y="610.76"><tspan x="960.5" class="a">大</tspan><tspan x="983.5" class="c">小</tspan><tspan x="1006" class="a">大</tspan><tspan x="1061.5" class="c">双</tspan><tspan x="1084.5" class="c">双</tspan><tspan x="1107.5" class="c">双</tspan></text>
<text class="st" x="10.7" y="799.38">统计</text>
</g>
</svg>
<div class="t h" style="left:202px;top:51.7px;width:40px;">0</div><div class="t h" style="left:220px;top:51.7px;width:40px;">1</div><div class="t h" style="left:237px;top:51.7px;width:40px;">2</div><div class="t h" style="left:255px;top:51.7px;width:40px;">3</div><div class="t h" style="left:272.5px;top:51.7px;width:40px;">4</div><div class="t h" style="left:290px;top:51.7px;width:40px;">5</div><div class="t h" style="left:307.5px;top:51.7px;width:40px;">6</div><div class="t h" style="left:325px;top:51.7px;width:40px;">7</div><div class="t h" style="left:342.5px;top:51.7px;width:40px;">8</div><div class="t h" style="left:360.1px;top:51.7px;width:40px;">9</div><div class="t h" style="left:378.9px;top:51.7px;width:40px;">0</div><div class="t h" style="left:396.5px;top:51.7px;width:40px;">1</div><div class="t h" style="left:414px;top:51.7px;width:40px;">2</div><div class="t h" style="left:431.5px;top:51.7px;width:40px;">3</div><div class="t h" style="left:449px;top:51.7px;width:40px;">4</div><div class="t h" style="left:467px;top:51.7px;width:40px;">5</div><div class="t h" style="left:484px;top:51.7px;width:40px;">6</div><div class="t h" style="left:502px;top:51.7px;width:40px;">7</div><div class="t h" style="left:519.5px;top:51.7px;width:40px;">8</div><div class="t h" style="left:537.1px;top:51.7px;width:40px;">9</div><div class="t h" style="left:555.9px;top:51.7px;width:40px;">0</div><div class="t h" style="left:573px;top:51.7px;width:40px;">1</div><div class="t h" style="left:591px;top:51.7px;width:40px;">2</div><div class="t h" style="left:608.5px;top:51.7px;width:40px;">3</div><div class="t h" style="left:626px;top:51.7px;width:40px;">4</div><div class="t h" style="left:643.5px;top:51.7px;width:40px;">5</div><div class="t h" style="left:661px;top:51.7px;width:40px;">6</div><div class="t h" style="left:678.5px;top:51.7px;width:40px;">7</div><div class="t h" style="left:696px;top:51.7px;width:40px;">8</div><div class="t h" style="left:714px;top:51.7px;width:40px;">9</div><div class="t h" style="left:734px;top:51.7px;width:40px;">0</div><div class="t h" style="left:756px;top:51.7px;width:40px;">1</div><div class="t h" style="left:777px;top:51.7px;width:40px;">2</div><div class="t h" style="left:798px;top:51.7px;width:40px;">3</div><div class="t h" style="left:819.25px;top:51.7px;width:40px;">4</div><div class="t h" style="left:841px;top:51.7px;width:40px;">5</div><div class="t h" style="left:862px;top:51.7px;width:40px;">6</div><div class="t h" style="left:883px;top:51.7px;width:40px;">7</div><div class="t h" style="left:904.25px;top:51.7px;width:40px;">8</div><div class="t h" style="left:926px;top:51.7px;width:40px;">9</div><div class="t d" style="left:-0.2px;top:90.7px;width:53px;">21322</div><div class="t b n" style="left:45.25px;top:90.7px;width:40px;">5</div><div class="t b r" style="left:67px;top:90.7px;width:40px;">0</div><div class="t b r" style="left:88px;top:90.7px;width:40px;">0</div><div class="t d" style="left:156.5px;top:90.7px;width:40px;">&nbsp;5</div><div class="t d" style="left:180.5px;top:90.7px;width:40px;">5</div><div class="t d" style="left:290px;top:90.7px;width:40px;">5</div><div class="t d" style="left:378.9px;top:90.7px;width:40px;">0</div><div class="t d" style="left:555.9px;top:90.7px;width:40px;">0</div><div class="t d" style="left:734px;top:90.7px;width:40px;">0<i>2</i></div><div class="t d" style="left:841px;top:90.7px;width:40px;">5</div><div class="t d" style="left:1022px;top:90.7px;width:40px;">1:2</div><div class="t d" style="left:1123px;top:90.7px;width:40px;">1:2</div><div class="t b n" style="left:1150.25px;top:90.7px;width:40px;">2</div><div class="t b n" style="left:1172px;top:90.7px;width:40px;">9</div><div class="t b n" style="left:1193px;top:90.7px;width:40px;">8</div><div class="t d" style="left:-0.2px;top:117.7px;width:53px;">21323</div><div class="t b n" style="left:45.25px;top:117.7px;width:40px;">7</div><div class="t b n" style="left:67px;top:117.7px;width:40px;">5</div><div class="t b n" style="left:88px;top:117.7px;width:40px;">4</div><div class="t d" style="left:156.5px;top:117.7px;width:40px;">16</div><div class="t d" style="left:180.5px;top:117.7px;width:40px;">3</div><div class="t d" style="left:325px;top:117.7px;width:40px;">7</div><div class="t d" style="left:467px;top:117.7px;width:40px;">5</div><div class="t d" style="left:626px;top:117.7px;width:40px;">4</div><div class="t d" style="left:819.25px;top:117.7px;width:40px;">4</div><div class="t d" style="left:841px;top:117.7px;width:40px;">5</div><div class="t d" style="left:883px;top:117.7px;width:40px;">7</div><div class="t d" style="left:1022px;top:117.7px;width:40px;">2:1</div><div class="t d" style="left:1123px;top:117.7px;width:40px;">2:1</div><div class="t b n" style="left:1150.25px;top:117.7px;width:40px;">3</div><div class="t b r" style="left:1172px;top:117.7px;width:40px;">4</div><div class="t b r" style="left:1193px;top:117.7px;width:40px;">4</div><div class="t d" style="left:-0.2px;top:143.7px;width:53px;">21324</div><div class="t b r" style="left:45.25px;top:143.7px;width:40px;">8</div><div class="t b r" style="left:67px;top:143.7px;width:40px;">8</div><div class="t b n" style="left:88px;top:143.7px;width:40px;">6</div><div class="t d" style="left:156.5px;top:143.7px;width:40px;">22</div><div class="t d" style="left:180.5px;top:143.7px;width:40px;">2</div><div class="t d" style="left:342.5px;top:143.7px;width:40px;">8</div><div class="t d" style="left:519.5px;top:143.7px;width:40px;">8</div><div class="t d" style="left:661px;top:143.7px;width:40px;">6</div><div class="t d" style="left:862px;top:143.7px;width:40px;">6</div><div class="t d" style="left:904.25px;top:143.7px;width:40px;">8<i>2</i></div><div class="t d" style="left:1022px;top:143.7px;width:40px;">3:0</div><div class="t d" style="left:1123px;top:143.7px;width:40px;">0:3</div><div class="t b n" style="left:1150.25px;top:143.7px;width:40px;">8</div><div class="t b n" style="left:1172px;top:143.7px;width:40px;">4</div><div class="t b n" style="left:1193px;top:143.7px;width:40px;">7</div><div class="t d" style="left:-0.2px;top:170.7px;width:53px;">21325</div><div class="t b r" style="left:45.25px;top:170.7px;width:40px;">5</div><div class="t b n" style="left:67px;top:170.7px;width:40px;">1</div><div class="t b r" style="left:88px;top:170.7px;width:40px;">5</div><div class="t d" style="left:156.5px;top:170.7px;width:40px;">11</div><div class="t d" style="left:180.5px;top:170.7px;width:40px;">4</div><div class="t d" style="left:290px;top:170.7px;width:40px;">5</div><div class="t d" style="left:396.5px;top:170.7px;width:40px;">1</div><div class="t d" style="left:643.5px;top:170.7px;width:40px;">5</div><div class="t d" style="left:756px;top:170.7px;width:40px;">1</div><div class="t d" style="left:841px;top:170.7px;width:40px;">5<i>2</i></div><div class="t d" style="left:1022px;top:170.7px;width:40px;">2:1</div><div class="t d" style="left:1123px;top:170.7px;width:40px;">3:0</div><div class="t b n" style="left:1150.25px;top:170.7px;width:40px;">1</div><div class="t b n" style="left:1172px;top:170.7px;width:40px;">6</div><div class="t b n" style="left:1193px;top:170.7px;width:40px;">9</div><div class="t d" style="left:-0.2px;top:197.7px;width:53px;">21326</div><div class="t b n" style="left:45.25px;top:197.7px;width:40px;">9</div><div class="t b n" style="left:67px;top:197.7px;width:40px;">7</div><div class="t b n" style="left:88px;top:197.7px;width:40px;">0</div><div class="t d" style="left:156.5px;top:197.7px;width:40px;">16</div><div class="t d" style="left:180.5px;top:197.7px;width:40px;">9</div><div class="t d" style="left:360.1px;top:197.7px;width:40px;">9</div><div class="t d" style="left:502px;top:197.7px;width:40px;">7</div><div class="t d" style="left:555.9px;top:197.7px;width:40px;">0</div><div class="t d" style="left:734px;top:197.7px;width:40px;">0</div><div class="t d" style="left:883px;top:197.7px;width:40px;">7</div><div class="t d" style="left:926px;top:197.7px;width:40px;">9</div><div class="t d" style="left:1022px;top:197.7px;width:40px;">2:1</div><div class="t d" style="left:1123px;top:197.7px;width:40px;">2:1</div><div class="t b n" style="left:1150.25px;top:197.7px;width:40px;">1</div><div class="t b n" style="left:1172px;top:197.7px;width:40px;">4</div><div class="t b n" style="left:1193px;top:197.7px;width:40px;">9</div><div class="t d" style="left:-0.2px;top:223.7px;width:53px;">21327</div><div class="t b n" style="left:45.25px;top:223.7px;width:40px;">9</div><div class="t b n" style="left:67px;top:223.7px;width:40px;">3</div><div class="t b n" style="left:88px;top:223.7px;width:40px;">5</div><div class="t d" style="left:156.5px;top:223.7px;width:40px;">17</div><div class="t d" style="left:180.5px;top:223.7px;width:40px;">6</div><div class="t d" style="left:360.1px;top:223.7px;width:40px;">9</div><div class="t d" style="left:431.5px;top:223.7px;width:40px;">3</div><div class="t d" style="left:643.5px;top:223.7px;width:40px;">5</div><div class="t d" style="left:798px;top:223.7px;width:40px;">3</div><div class="t d" style="left:841px;top:223.7px;width:40px;">5</div><div class="t d" style="left:926px;top:223.7px;width:40px;">9</div><div class="t d" style="left:1022px;top:223.7px;width:40px;">2:1</div><div class="t d" style="left:1123px;top:223.7px;width:40px;">3:0</div><div class="t b n" style="left:1150.25px;top:223.7px;width:40px;">4</div><div class="t b n" style="left:1172px;top:223.7px;width:40px;">1</div><div class="t b n" style="left:1193px;top:223.7px;width:40px;">9</div><div class="t d" style="left:-0.2px;top:249.7px;width:53px;">21328</div><div class="t b n" style="left:45.25px;top:249.7px;width:40px;">3</div><div class="t b r" style="left:67px;top:249.7px;width:40px;">0</div><div class="t b r" style="left:88px;top:249.7px;width:40px;">0</div><div class="t d" style="left:156.5px;top:249.7px;width:40px;">&nbsp;3</div><div class="t d" style="left:180.5px;top:249.7px;width:40px;">3</div><div class="t d" style="left:255px;top:249.7px;width:40px;">3</div><div class="t d" style="left:378.9px;top:249.7px;width:40px;">0</div><div class="t d" style="left:555.9px;top:249.7px;width:40px;">0</div><div class="t d" style="left:734px;top:249.7px;width:40px;">0<i>2</i></div><div class="t d" style="left:798px;top:249.7px;width:40px;">3</div><div class="t d" style="left:1022px;top:249.7px;width:40px;">0:3</div><div class="t d" style="left:1123px;top:249.7px;width:40px;">1:2</div><div class="t b n" style="left:1150.25px;top:249.7px;width:40px;">0</div><div class="t b n" style="left:1172px;top:249.7px;width:40px;">7</div><div class="t b n" style="left:1193px;top:249.7px;width:40px;">4</div><div class="t d" style="left:-0.2px;top:276.7px;width:53px;">21329</div><div class="t b n" style="left:45.25px;top:276.7px;width:40px;">2</div><div class="t b n" style="left:67px;top:276.7px;width:40px;">8</div><div class="t b n" style="left:88px;top:276.7px;width:40px;">6</div><div class="t d" style="left:156.5px;top:276.7px;width:40px;">16</div><div class="t d" style="left:180.5px;top:276.7px;width:40px;">6</div><div class="t d" style="left:237px;top:276.7px;width:40px;">2</div><div class="t d" style="left:519.5px;top:276.7px;width:40px;">8</div><div class="t d" style="left:661px;top:276.7px;width:40px;">6</div><div class="t d" style="left:777px;top:276.7px;width:40px;">2</div><div class="t d" style="left:862px;top:276.7px;width:40px;">6</div><div class="t d" style="left:904.25px;top:276.7px;width:40px;">8</div><div class="t d" style="left:1022px;top:276.7px;width:40px;">2:1</div><div class="t d" style="left:1123px;top:276.7px;width:40px;">0:3</div><div class="t b n" style="left:1150.25px;top:276.7px;width:40px;">9</div><div class="t b n" style="left:1172px;top:276.7px;width:40px;">4</div><div class="t b n" style="left:1193px;top:276.7px;width:40px;">7</div><div class="t d" style="left:-0.2px;top:302.7px;width:53px;">21330</div><div class="t b n" style="left:45.25px;top:302.7px;width:40px;">7</div><div class="t b r" style="left:67px;top:302.7px;width:40px;">4</div><div class="t b r" style="left:88px;top:302.7px;width:40px;">4</div><div class="t d" style="left:156.5px;top:302.7px;width:40px;">15</div><div class="t d" style="left:180.5px;top:302.7px;width:40px;">3</div><div class="t d" style="left:325px;top:302.7px;width:40px;">7</div><div class="t d" style="left:449px;top:302.7px;width:40px;">4</div><div class="t d" style="left:626px;top:302.7px;width:40px;">4</div><div class="t d" style="left:819.25px;top:302.7px;width:40px;">4<i>2</i></div><div class="t d" style="left:883px;top:302.7px;width:40px;">7</div><div class="t d" style="left:1022px;top:302.7px;width:40px;">1:2</div><div class="t d" style="left:1123px;top:302.7px;width:40px;">1:2</div><div class="t b n" style="left:1150.25px;top:302.7px;width:40px;">4</div><div class="t b n" style="left:1172px;top:302.7px;width:40px;">1</div><div class="t b n" style="left:1193px;top:302.7px;width:40px;">6</div><div class="t d" style="left:-0.2px;top:329.7px;width:53px;">21331</div><div class="t b n" style="left:45.25px;top:329.7px;width:40px;">1</div><div class="t b r" style="left:67px;top:329.7px;width:40px;">2</div><div class="t b r" style="left:88px;top:329.7px;width:40px;">2</div><div class="t d" style="left:156.5px;top:329.7px;width:40px;">&nbsp;5</div><div class="t d" style="left:180.5px;top:329.7px;width:40px;">1</div><div class="t d" style="left:220px;top:329.7px;width:40px;">1</div><div class="t d" style="left:414px;top:329.7px;width:40px;">2</div><div class="t d" style="left:591px;top:329.7px;width:40px;">2</div><div class="t d" style="left:756px;top:329.7px;width:40px;">1</div><div class="t d" style="left:777px;top:329.7px;width:40px;">2<i>2</i></div><div class="t d" style="left:1022px;top:329.7px;width:40px;">0:3</div><div class="t d" style="left:1123px;top:329.7px;width:40px;">1:2</div><div class="t b n" style="left:1150.25px;top:329.7px;width:40px;">5</div><div class="t b n" style="left:1172px;top:329.7px;width:40px;">4</div><div class="t b n" style="left:1193px;top:329.7px;width:40px;">0</div><div class="t d" style="left:-0.2px;top:356.7px;width:53px;">21332</div><div class="t b n" style="left:45.25px;top:356.7px;width:40px;">5</div><div class="t b r" style="left:67px;top:356.7px;width:40px;">0</div><div class="t b r" style="left:88px;top:356.7px;width:40px;">0</div><div class="t d" style="left:156.5px;top:356.7px;width:40px;">&nbsp;5</div><div class="t d" style="left:180.5px;top:356.7px;width:40px;">5</div><div class="t d" style="left:290px;top:356.7px;width:40px;">5</div><div class="t d" style="left:378.9px;top:356.7px;width:40px;">0</div><div class="t d" style="left:555.9px;top:356.7px;width:40px;">0</div><div class="t d" style="left:734px;top:356.7px;width:40px;">0<i>2</i></div><div class="t d" style="left:841px;top:356.7px;width:40px;">5</div><div class="t d" style="left:1022px;top:356.7px;width:40px;">1:2</div><div class="t d" style="left:1123px;top:356.7px;width:40px;">1:2</div><div class="t b r" style="left:1150.25px;top:356.7px;width:40px;">3</div><div class="t b n" style="left:1172px;top:356.7px;width:40px;">9</div><div class="t b r" style="left:1193px;top:356.7px;width:40px;">3</div><div class="t d" style="left:-0.2px;top:383.7px;width:53px;">21333</div><div class="t b r" style="left:45.25px;top:383.7px;width:40px;">4</div><div class="t b n" style="left:67px;top:383.7px;width:40px;">9</div><div class="t b r" style="left:88px;top:383.7px;width:40px;">4</div><div class="t d" style="left:156.5px;top:383.7px;width:40px;">17</div><div class="t d" style="left:180.5px;top:383.7px;width:40px;">5</div><div class="t d" style="left:272.5px;top:383.7px;width:40px;">4</div><div class="t d" style="left:537.1px;top:383.7px;width:40px;">9</div><div class="t d" style="left:626px;top:383.7px;width:40px;">4</div><div class="t d" style="left:819.25px;top:383.7px;width:40px;">4<i>2</i></div><div class="t d" style="left:926px;top:383.7px;width:40px;">9</div><div class="t d" style="left:1022px;top:383.7px;width:40px;">1:2</div><div class="t d" style="left:1123px;top:383.7px;width:40px;">1:2</div><div class="t b n" style="left:1150.25px;top:383.7px;width:40px;">0</div><div class="t b n" style="left:1172px;top:383.7px;width:40px;">9</div><div class="t b n" style="left:1193px;top:383.7px;width:40px;">3</div><div class="t d" style="left:-0.2px;top:409.7px;width:53px;">21334</div><div class="t b n" style="left:45.25px;top:409.7px;width:40px;">6</div><div class="t b n" style="left:67px;top:409.7px;width:40px;">9</div><div class="t b n" style="left:88px;top:409.7px;width:40px;">2</div><div class="t d" style="left:156.5px;top:409.7px;width:40px;">17</div><div class="t d" style="left:180.5px;top:409.7px;width:40px;">7</div><div class="t d" style="left:307.5px;top:409.7px;width:40px;">6</div><div class="t d" style="left:537.1px;top:409.7px;width:40px;">9</div><div class="t d" style="left:591px;top:409.7px;width:40px;">2</div><div class="t d" style="left:777px;top:409.7px;width:40px;">2</div><div class="t d" style="left:862px;top:409.7px;width:40px;">6</div><div class="t d" style="left:926px;top:409.7px;width:40px;">9</div><div class="t d" style="left:1022px;top:409.7px;width:40px;">2:1</div><div class="t d" style="left:1123px;top:409.7px;width:40px;">1:2</div><div class="t b n" style="left:1150.25px;top:409.7px;width:40px;">5</div><div class="t b n" style="left:1172px;top:409.7px;width:40px;">6</div><div class="t b n" style="left:1193px;top:409.7px;width:40px;">0</div><div class="t d" style="left:-0.2px;top:435.7px;width:53px;">21335</div><div class="t b n" style="left:45.25px;top:435.7px;width:40px;">4</div><div class="t b n" style="left:67px;top:435.7px;width:40px;">9</div><div class="t b n" style="left:88px;top:435.7px;width:40px;">3</div><div class="t d" style="left:156.5px;top:435.7px;width:40px;">16</div><div class="t d" style="left:180.5px;top:435.7px;width:40px;">6</div><div class="t d" style="left:272.5px;top:435.7px;width:40px;">4</div><div class="t d" style="left:537.1px;top:435.7px;width:40px;">9</div><div class="t d" style="left:608.5px;top:435.7px;width:40px;">3</div><div class="t d" style="left:798px;top:435.7px;width:40px;">3</div><div class="t d" style="left:819.25px;top:435.7px;width:40px;">4</div><div class="t d" style="left:926px;top:435.7px;width:40px;">9</div><div class="t d" style="left:1022px;top:435.7px;width:40px;">1:2</div><div class="t d" style="left:1123px;top:435.7px;width:40px;">2:1</div><div class="t b n" style="left:1150.25px;top:435.7px;width:40px;">1</div><div class="t b n" style="left:1172px;top:435.7px;width:40px;">9</div><div class="t b n" style="left:1193px;top:435.7px;width:40px;">7</div><div class="t d" style="left:-0.2px;top:462.7px;width:53px;">21336</div><div class="t b n" style="left:45.25px;top:462.7px;width:40px;">6</div><div class="t b n" style="left:67px;top:462.7px;width:40px;">5</div><div class="t b n" style="left:88px;top:462.7px;width:40px;">0</div><div class="t d" style="left:156.5px;top:462.7px;width:40px;">11</div><div class="t d" style="left:180.5px;top:462.7px;width:40px;">6</div><div class="t d" style="left:307.5px;top:462.7px;width:40px;">6</div><div class="t d" style="left:467px;top:462.7px;width:40px;">5</div><div class="t d" style="left:555.9px;top:462.7px;width:40px;">0</div><div class="t d" style="left:734px;top:462.7px;width:40px;">0</div><div class="t d" style="left:841px;top:462.7px;width:40px;">5</div><div class="t d" style="left:862px;top:462.7px;width:40px;">6</div><div class="t d" style="left:1022px;top:462.7px;width:40px;">2:1</div><div class="t d" style="left:1123px;top:462.7px;width:40px;">1:2</div><div class="t b n" style="left:1150.25px;top:462.7px;width:40px;">0</div><div class="t b n" style="left:1172px;top:462.7px;width:40px;">7</div><div class="t b n" style="left:1193px;top:462.7px;width:40px;">6</div><div class="t d" style="left:-0.2px;top:488.7px;width:53px;">21337</div><div class="t b r" style="left:45.25px;top:488.7px;width:40px;">8</div><div class="t b r" style="left:67px;top:488.7px;width:40px;">8</div><div class="t b n" style="left:88px;top:488.7px;width:40px;">9</div><div class="t d" style="left:156.5px;top:488.7px;width:40px;">25</div><div class="t d" style="left:180.5px;top:488.7px;width:40px;">1</div><div class="t d" style="left:342.5px;top:488.7px;width:40px;">8</div><div class="t d" style="left:519.5px;top:488.7px;width:40px;">8</div><div class="t d" style="left:714px;top:488.7px;width:40px;">9</div><div class="t d" style="left:904.25px;top:488.7px;width:40px;">8<i>2</i></div><div class="t d" style="left:926px;top:488.7px;width:40px;">9</div><div class="t d" style="left:1022px;top:488.7px;width:40px;">3:0</div><div class="t d" style="left:1123px;top:488.7px;width:40px;">1:2</div><div class="t b n" style="left:1150.25px;top:488.7px;width:40px;">2</div><div class="t b r" style="left:1172px;top:488.7px;width:40px;">8</div><div class="t b r" style="left:1193px;top:488.7px;width:40px;">8</div><div class="t d" style="left:-0.2px;top:515.7px;width:53px;">21338</div><div class="t b n" style="left:45.25px;top:515.7px;width:40px;">4</div><div class="t b n" style="left:67px;top:515.7px;width:40px;">9</div><div class="t b n" style="left:88px;top:515.7px;width:40px;">0</div><div class="t d" style="left:156.5px;top:515.7px;width:40px;">13</div><div class="t d" style="left:180.5px;top:515.7px;width:40px;">9</div><div class="t d" style="left:272.5px;top:515.7px;width:40px;">4</div><div class="t d" style="left:537.1px;top:515.7px;width:40px;">9</div><div class="t d" style="left:555.9px;top:515.7px;width:40px;">0</div><div class="t d" style="left:734px;top:515.7px;width:40px;">0</div><div class="t d" style="left:819.25px;top:515.7px;width:40px;">4</div><div class="t d" style="left:926px;top:515.7px;width:40px;">9</div><div class="t d" style="left:1022px;top:515.7px;width:40px;">1:2</div><div class="t d" style="left:1123px;top:515.7px;width:40px;">1:2</div><div class="t b n" style="left:1150.25px;top:515.7px;width:40px;">0</div><div class="t b n" style="left:1172px;top:515.7px;width:40px;">9</div><div class="t b n" style="left:1193px;top:515.7px;width:40px;">2</div><div class="t d" style="left:-0.2px;top:541.7px;width:53px;">21339</div><div class="t b n" style="left:45.25px;top:541.7px;width:40px;">2</div><div class="t b n" style="left:67px;top:541.7px;width:40px;">6</div><div class="t b n" style="left:88px;top:541.7px;width:40px;">7</div><div class="t d" style="left:156.5px;top:541.7px;width:40px;">15</div><div class="t d" style="left:180.5px;top:541.7px;width:40px;">5</div><div class="t d" style="left:237px;top:541.7px;width:40px;">2</div><div class="t d" style="left:484px;top:541.7px;width:40px;">6</div><div class="t d" style="left:678.5px;top:541.7px;width:40px;">7</div><div class="t d" style="left:777px;top:541.7px;width:40px;">2</div><div class="t d" style="left:862px;top:541.7px;width:40px;">6</div><div class="t d" style="left:883px;top:541.7px;width:40px;">7</div><div class="t d" style="left:1022px;top:541.7px;width:40px;">2:1</div><div class="t d" style="left:1123px;top:541.7px;width:40px;">1:2</div><div class="t b r" style="left:1150.25px;top:541.7px;width:40px;">8</div><div class="t b n" style="left:1172px;top:541.7px;width:40px;">4</div><div class="t b r" style="left:1193px;top:541.7px;width:40px;">8</div><div class="t d" style="left:-0.2px;top:567.7px;width:53px;">21340</div><div class="t b n" style="left:45.25px;top:567.7px;width:40px;">2</div><div class="t b n" style="left:67px;top:567.7px;width:40px;">8</div><div class="t b n" style="left:88px;top:567.7px;width:40px;">7</div><div class="t d" style="left:156.5px;top:567.7px;width:40px;">17</div><div class="t d" style="left:180.5px;top:567.7px;width:40px;">6</div><div class="t d" style="left:237px;top:567.7px;width:40px;">2</div><div class="t d" style="left:519.5px;top:567.7px;width:40px;">8</div><div class="t d" style="left:678.5px;top:567.7px;width:40px;">7</div><div class="t d" style="left:777px;top:567.7px;width:40px;">2</div><div class="t d" style="left:883px;top:567.7px;width:40px;">7</div><div class="t d" style="left:904.25px;top:567.7px;width:40px;">8</div><div class="t d" style="left:1022px;top:567.7px;width:40px;">2:1</div><div class="t d" style="left:1123px;top:567.7px;width:40px;">1:2</div><div class="t b r" style="left:1150.25px;top:567.7px;width:40px;">8</div><div class="t b n" style="left:1172px;top:567.7px;width:40px;">1</div><div class="t b r" style="left:1193px;top:567.7px;width:40px;">8</div><div class="t d" style="left:-0.2px;top:594.7px;width:53px;">21341</div><div class="t b r" style="left:45.25px;top:594.7px;width:40px;">6</div><div class="t b n" style="left:67px;top:594.7px;width:40px;">0</div><div class="t b r" style="left:88px;top:594.7px;width:40px;">6</div><div class="t d" style="left:156.5px;top:594.7px;width:40px;">12</div><div class="t d" style="left:180.5px;top:594.7px;width:40px;">6</div><div class="t d" style="left:307.5px;top:594.7px;width:40px;">6</div><div class="t d" style="left:378.9px;top:594.7px;width:40px;">0</div><div class="t d" style="left:661px;top:594.7px;width:40px;">6</div><div class="t d" style="left:734px;top:594.7px;width:40px;">0</div><div class="t d" style="left:862px;top:594.7px;width:40px;">6<i>2</i></div><div class="t d" style="left:1022px;top:594.7px;width:40px;">2:1</div><div class="t d" style="left:1123px;top:594.7px;width:40px;">0:3</div><div class="t b n" style="left:1150.25px;top:594.7px;width:40px;">9</div><div class="t b n" style="left:1172px;top:594.7px;width:40px;">4</div><div class="t b n" style="left:1193px;top:594.7px;width:40px;">8</div><div class="t s r2" style="left:202.7px;top:813.7px;width:40px;">0</div><div class="t s r2" style="left:202px;top:841.7px;width:40px;">0</div><div class="t s r2" style="left:220.7px;top:807.7px;width:40px;">1</div><div class="t s r2" style="left:220px;top:841.7px;width:40px;">1</div><div class="t s r2" style="left:237.7px;top:795.7px;width:40px;">3</div><div class="t s r2" style="left:237px;top:841.7px;width:40px;">2</div><div class="t s r2" style="left:255.7px;top:807.7px;width:40px;">1</div><div class="t s r2" style="left:255px;top:841.7px;width:40px;">3</div><div class="t s r2" style="left:273.2px;top:795.7px;width:40px;">3</div><div class="t s r2" style="left:272.5px;top:841.7px;width:40px;">4</div><div class="t s r2" style="left:290.7px;top:795.7px;width:40px;">3</div><div class="t s r2" style="left:290px;top:841.7px;width:40px;">5</div><div class="t s r2" style="left:308.2px;top:795.7px;width:40px;">3</div><div class="t s r2" style="left:307.5px;top:841.7px;width:40px;">6</div><div class="t s r2" style="left:325.7px;top:801.7px;width:40px;">2</div><div class="t s r2" style="left:325px;top:841.7px;width:40px;">7</div><div class="t s r2" style="left:343.2px;top:801.7px;width:40px;">2</div><div class="t s r2" style="left:342.5px;top:841.7px;width:40px;">8</div><div class="t s r2" style="left:360.8px;top:801.7px;width:40px;">2</div><div class="t s r2" style="left:360.1px;top:841.7px;width:40px;">9</div><div class="t s n2" style="left:379.6px;top:789.7px;width:40px;">4</div><div class="t s n2" style="left:378.9px;top:841.7px;width:40px;">0</div><div class="t s n2" style="left:397.2px;top:807.7px;width:40px;">1</div><div class="t s n2" style="left:396.5px;top:841.7px;width:40px;">1</div><div class="t s n2" style="left:414.7px;top:807.7px;width:40px;">1</div><div class="t s n2" style="left:414px;top:841.7px;width:40px;">2</div><div class="t s n2" style="left:432.2px;top:807.7px;width:40px;">1</div><div class="t s n2" style="left:431.5px;top:841.7px;width:40px;">3</div><div class="t s n2" style="left:449.7px;top:807.7px;width:40px;">1</div><div class="t s n2" style="left:449px;top:841.7px;width:40px;">4</div><div class="t s n2" style="left:467.7px;top:801.7px;width:40px;">2</div><div class="t s n2" style="left:467px;top:841.7px;width:40px;">5</div><div class="t s n2" style="left:484.7px;top:807.7px;width:40px;">1</div><div class="t s n2" style="left:484px;top:841.7px;width:40px;">6</div><div class="t s n2" style="left:502.7px;top:807.7px;width:40px;">1</div><div class="t s n2" style="left:502px;top:841.7px;width:40px;">7</div><div class="t s n2" style="left:520.2px;top:789.7px;width:40px;">4</div><div class="t s n2" style="left:519.5px;top:841.7px;width:40px;">8</div><div class="t s n2" style="left:537.8px;top:789.7px;width:40px;">4</div><div class="t s n2" style="left:537.1px;top:841.7px;width:40px;">9</div><div class="t s r2" style="left:556.6px;top:776.7px;width:40px;">6</div><div class="t s r2" style="left:555.9px;top:841.7px;width:40px;">0</div><div class="t s r2" style="left:573.7px;top:813.7px;width:40px;">0</div><div class="t s r2" style="left:573px;top:841.7px;width:40px;">1</div><div class="t s r2" style="left:591.7px;top:801.7px;width:40px;">2</div><div class="t s r2" style="left:591px;top:841.7px;width:40px;">2</div><div class="t s r2" style="left:609.2px;top:807.7px;width:40px;">1</div><div class="t s r2" style="left:608.5px;top:841.7px;width:40px;">3</div><div class="t s r2" style="left:626.7px;top:795.7px;width:40px;">3</div><div class="t s r2" style="left:626px;top:841.7px;width:40px;">4</div><div class="t s r2" style="left:644.2px;top:801.7px;width:40px;">2</div><div class="t s r2" style="left:643.5px;top:841.7px;width:40px;">5</div><div class="t s r2" style="left:661.7px;top:795.7px;width:40px;">3</div><div class="t s r2" style="left:661px;top:841.7px;width:40px;">6</div><div class="t s r2" style="left:679.2px;top:801.7px;width:40px;">2</div><div class="t s r2" style="left:678.5px;top:841.7px;width:40px;">7</div><div class="t s r2" style="left:696.7px;top:813.7px;width:40px;">0</div><div class="t s r2" style="left:696px;top:841.7px;width:40px;">8</div><div class="t s r2" style="left:714.7px;top:807.7px;width:40px;">1</div><div class="t s r2" style="left:714px;top:841.7px;width:40px;">9</div><div class="t s n2" style="left:736.2px;top:751.7px;width:40px;letter-spacing:-1.6px">10</div><div class="t s n2" style="left:734px;top:841.7px;width:40px;">0</div><div class="t s n2" style="left:756.7px;top:801.7px;width:40px;">2</div><div class="t s n2" style="left:756px;top:841.7px;width:40px;">1</div><div class="t s n2" style="left:777.7px;top:776.7px;width:40px;">6</div><div class="t s n2" style="left:777px;top:841.7px;width:40px;">2</div><div class="t s n2" style="left:798.7px;top:795.7px;width:40px;">3</div><div class="t s n2" style="left:798px;top:841.7px;width:40px;">3</div><div class="t s n2" style="left:819.95px;top:770.7px;width:40px;">7</div><div class="t s n2" style="left:819.25px;top:841.7px;width:40px;">4</div><div class="t s n2" style="left:841.7px;top:770.7px;width:40px;">7</div><div class="t s n2" style="left:841px;top:841.7px;width:40px;">5</div><div class="t s n2" style="left:862.7px;top:770.7px;width:40px;">7</div><div class="t s n2" style="left:862px;top:841.7px;width:40px;">6</div><div class="t s n2" style="left:883.7px;top:782.7px;width:40px;">5</div><div class="t s n2" style="left:883px;top:841.7px;width:40px;">7</div><div class="t s n2" style="left:904.95px;top:776.7px;width:40px;">6</div><div class="t s n2" style="left:904.25px;top:841.7px;width:40px;">8</div><div class="t s n2" style="left:926.7px;top:770.7px;width:40px;">7</div><div class="t s n2" style="left:926px;top:841.7px;width:40px;">9</div>
<div class="wm"><span class="sq"></span><b style="left:14.7px;transform:scaleX(1.12)">c</b><b style="left:24.7px;transform:scaleX(1.12)">z</b><b style="left:34.7px;transform:scaleX(1)">8</b><b style="left:44.7px;transform:scaleX(1)">9</b><b style="left:54.7px;transform:scaleX(1)">.</b><b style="left:64.7px;transform:scaleX(1.12)">c</b><b style="left:74.7px;transform:scaleX(1.0)">o</b><b style="left:84.7px;transform:scaleX(0.62)">m</b></div>
</div></body></html>
